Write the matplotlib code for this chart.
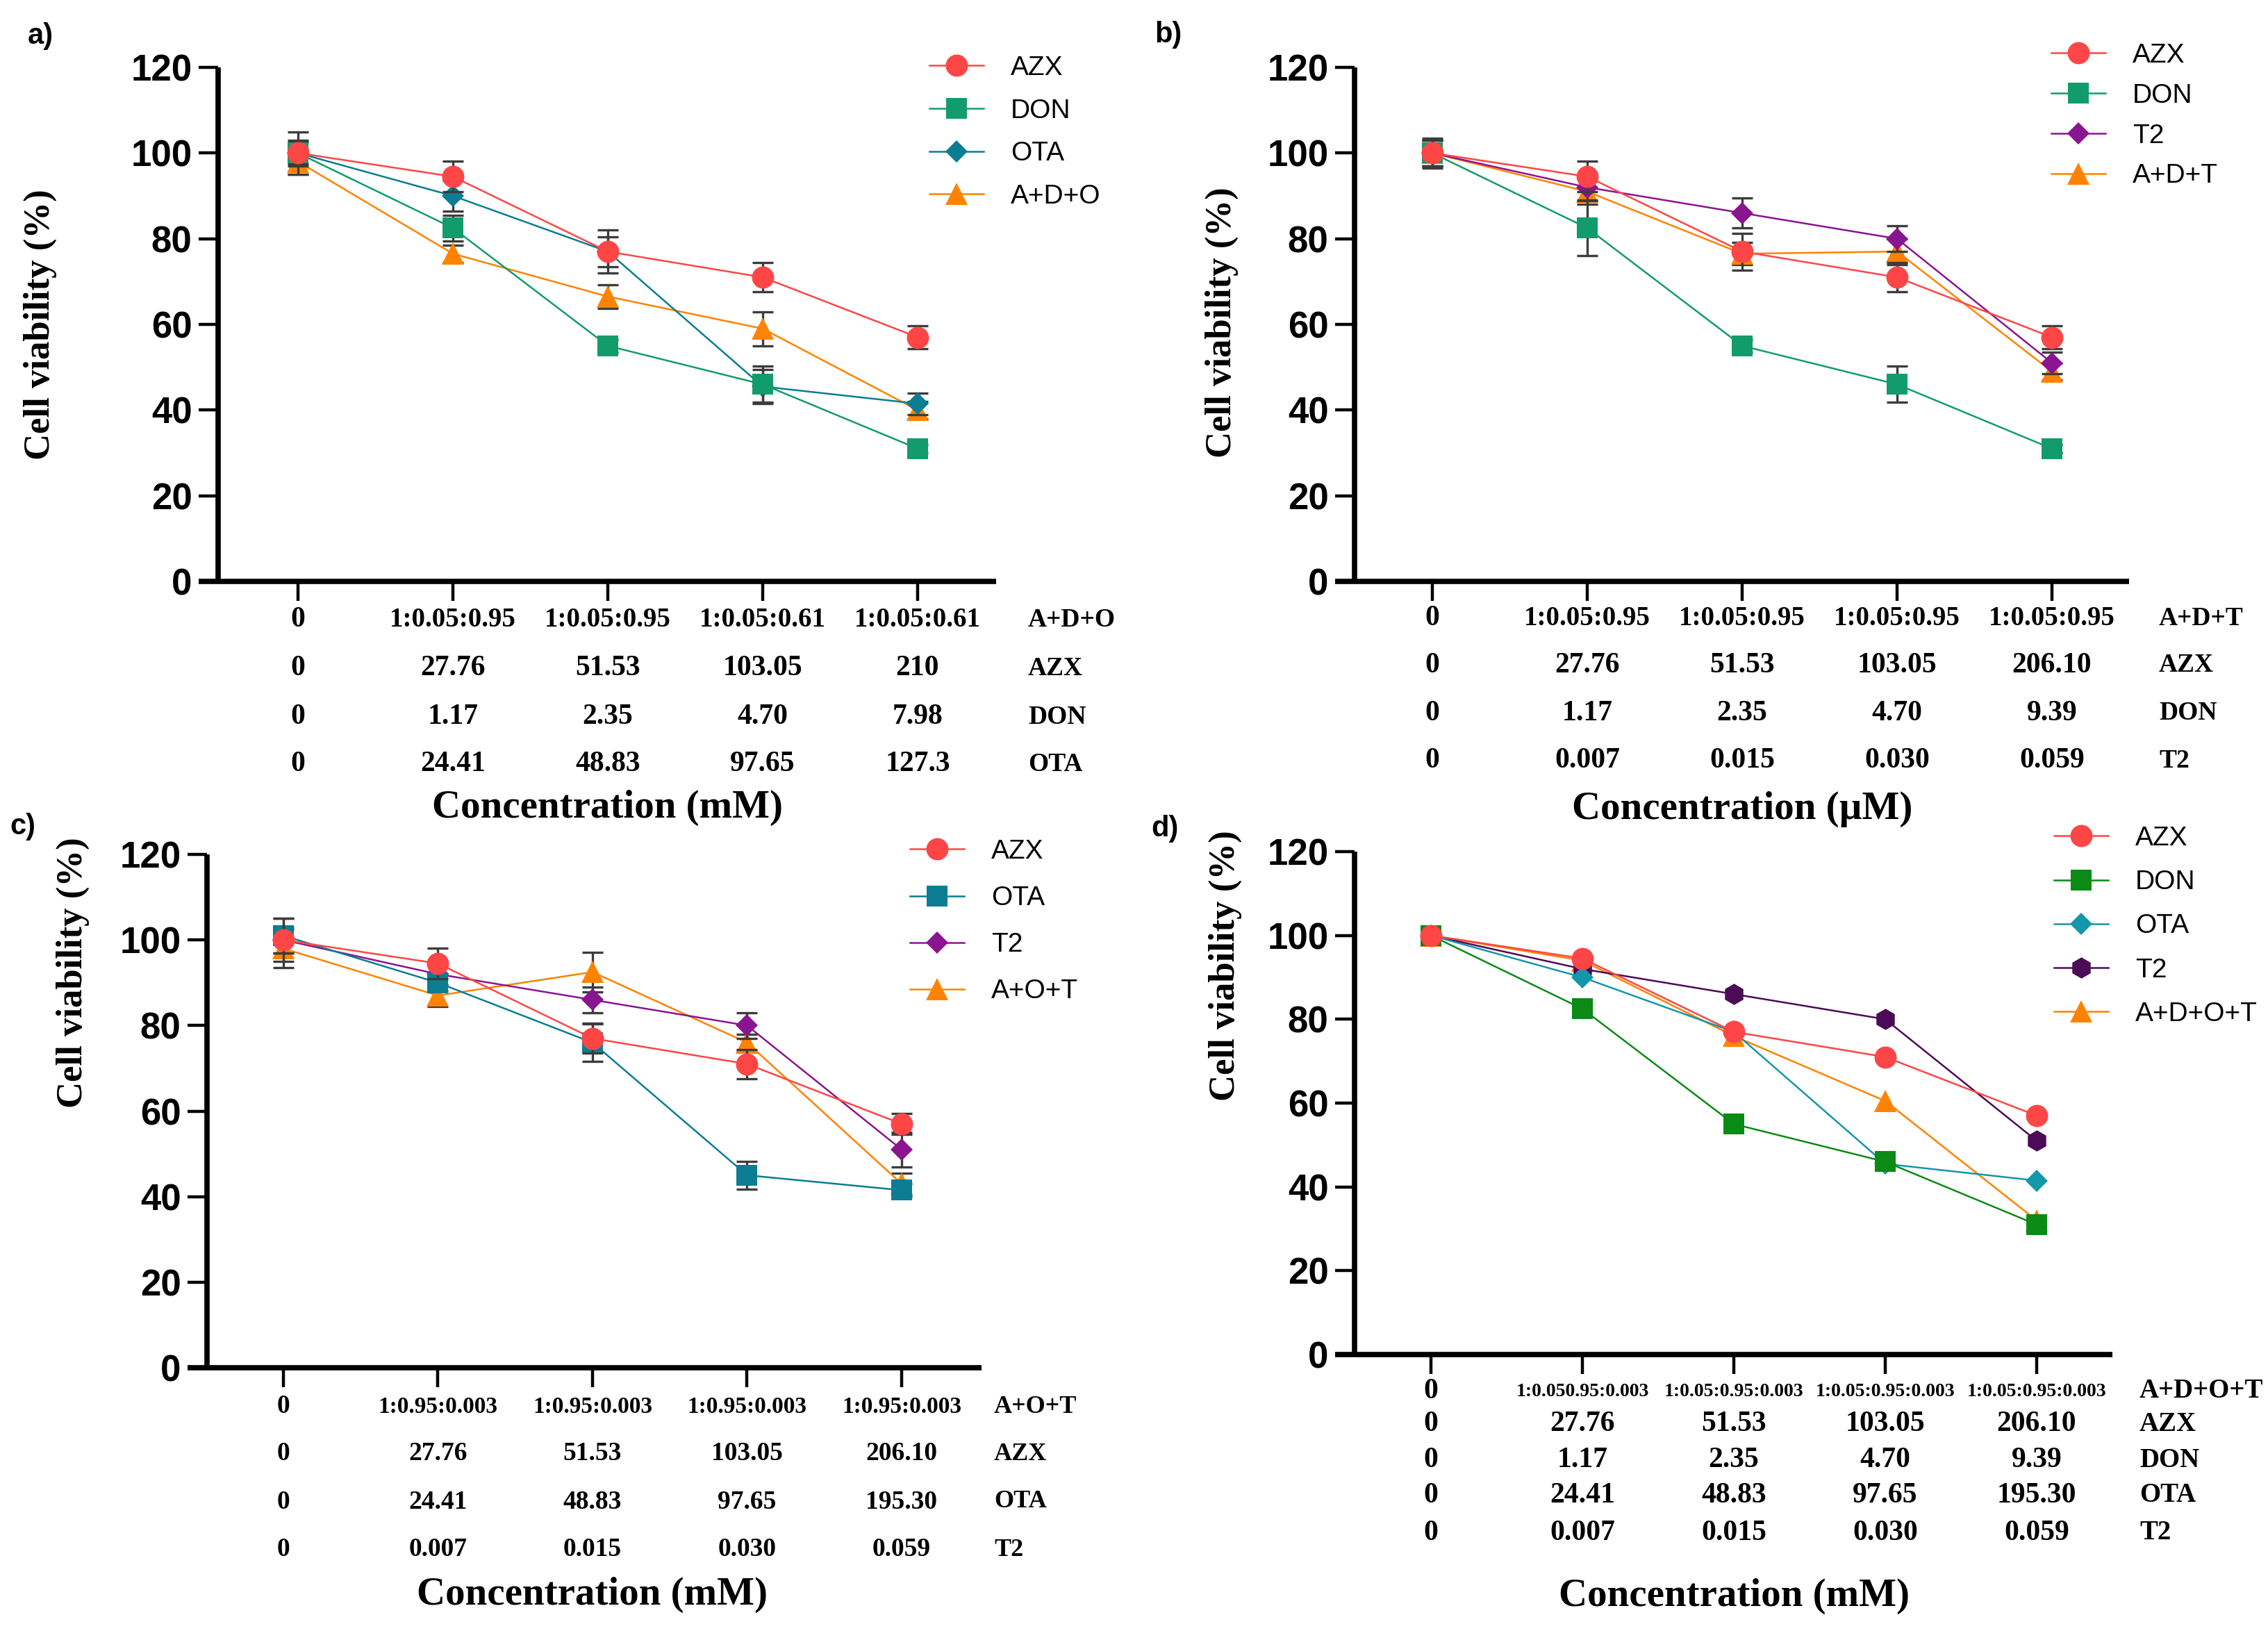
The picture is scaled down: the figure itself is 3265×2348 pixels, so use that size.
import matplotlib
matplotlib.use("Agg")
import matplotlib.pyplot as plt
from matplotlib.transforms import blended_transform_factory
from matplotlib import font_manager

W, H = 3266, 2348
DPI = 100

# ---------------- data ----------------
x_idx = [0, 1, 2, 3, 4]
y_ticks = [0, 20, 40, 60, 80, 100, 120]

# panel a
a_names = ["AZX", "DON", "OTA", "A+D+O"]
a_azx = [100, 94.5, 77, 71, 57]
a_azx_err = [3, 3.6, 3.5, 3.4, 2.7]
a_don = [100, 82.5, 55, 46, 31]
a_don_err = [2.5, 3, 1.5, 4.2, 1]
a_ota = [100, 90, 77, 45.5, 41.5]
a_ota_err = [5, 3.5, 5, 4, 2.5]
a_mix = [98, 76.5, 66.5, 59, 40]
a_mix_err = [3, 2, 2.8, 4, 2]
a_rows = [["0", "1:0.05:0.95", "1:0.05:0.95", "1:0.05:0.61", "1:0.05:0.61"],
          ["0", "27.76", "51.53", "103.05", "210"],
          ["0", "1.17", "2.35", "4.70", "7.98"],
          ["0", "24.41", "48.83", "97.65", "127.3"]]
a_row_labels = ["A+D+O", "AZX", "DON", "OTA"]
a_xlabel = "Concentration (mM)"

# panel b
b_names = ["AZX", "DON", "T2", "A+D+T"]
b_azx = [100, 94.5, 77, 71, 57]
b_azx_err = [3, 3.6, 4.3, 3.4, 2.7]
b_don = [100, 82.5, 55, 46, 31]
b_don_err = [3.5, 6.4, 1.5, 4.2, 1]
b_t2 = [100, 92, 86, 80, 51]
b_t2_err = [3, 3, 3.5, 3, 2.5]
b_mix = [100, 91, 76.5, 77, 49]
b_mix_err = [3, 3, 2.6, 3, 2]
b_rows = [["0", "1:0.05:0.95", "1:0.05:0.95", "1:0.05:0.95", "1:0.05:0.95"],
          ["0", "27.76", "51.53", "103.05", "206.10"],
          ["0", "1.17", "2.35", "4.70", "9.39"],
          ["0", "0.007", "0.015", "0.030", "0.059"]]
b_row_labels = ["A+D+T", "AZX", "DON", "T2"]
b_xlabel = "Concentration (\u00b5M)"

# panel c
c_names = ["AZX", "OTA", "T2", "A+O+T"]
c_azx = [100, 94.5, 77, 71, 57]
c_azx_err = [5, 3.5, 3.5, 3.4, 2.5]
c_ota = [101, 90, 76, 45, 41.5]
c_ota_err = [4, 2, 4.4, 3.3, 1.5]
c_t2 = [100, 92, 86, 80, 51]
c_t2_err = [3, 2.5, 3, 3, 4]
c_mix = [98, 87, 92.5, 76, 43]
c_mix_err = [4.5, 2.5, 4.6, 2, 2.5]
c_rows = [["0", "1:0.95:0.003", "1:0.95:0.003", "1:0.95:0.003", "1:0.95:0.003"],
          ["0", "27.76", "51.53", "103.05", "206.10"],
          ["0", "24.41", "48.83", "97.65", "195.30"],
          ["0", "0.007", "0.015", "0.030", "0.059"]]
c_row_labels = ["A+O+T", "AZX", "OTA", "T2"]
c_xlabel = "Concentration (mM)"

# panel d
d_names = ["AZX", "DON", "OTA", "T2", "A+D+O+T"]
d_azx = [100, 94.5, 77, 71, 57]
d_don = [100, 82.5, 55, 46, 31]
d_ota = [100, 90, 77, 45.5, 41.5]
d_t2 = [100, 92, 86, 80, 51]
d_mix = [100, 94, 76, 60.5, 32]
d_rows = [["0", "1:0.050.95:0.003", "1:0.05:0.95:0.003", "1:0.05:0.95:0.003", "1:0.05:0.95:0.003"],
          ["0", "27.76", "51.53", "103.05", "206.10"],
          ["0", "1.17", "2.35", "4.70", "9.39"],
          ["0", "24.41", "48.83", "97.65", "195.30"],
          ["0", "0.007", "0.015", "0.030", "0.059"]]
d_row_labels = ["A+D+O+T", "AZX", "DON", "OTA", "T2"]
d_xlabel = "Concentration (mM)"

y_label = "Cell viability (%)"

# ---------------- styles ----------------
RED = "#FF4646"
GREEN = "#129C6C"
TEAL = "#0A7D92"
ORANGE = "#FF8300"
PURPLE = "#8A1590"
D_GREEN = "#0B8A16"
D_TEAL = "#1496AB"
D_PURPLE = "#4B0B57"
ECOL = "#3C3C3C"

SANS = ["Liberation Sans", "DejaVu Sans"]
SERIF = ["Liberation Serif", "DejaVu Serif"]
_names = {f.name for f in font_manager.fontManager.ttflist}
if "Liberation Sans Narrow" in _names:
    TICKFONT = ["Liberation Sans Narrow", "DejaVu Sans"]
    TICKSIZE = 43
else:
    TICKFONT = SANS
    TICKSIZE = 38

fig = plt.figure(figsize=(W / DPI, H / DPI), dpi=DPI)


def fx(px):
    return px / W


def fy(py):
    return 1 - py / H


def make_panel(geo, series, rows, row_labels, xlabel, letter, sizes):
    first_size, body_size, lab_size = sizes
    yax, x0, unit, right, y0, y120 = geo["ax"]
    ax = fig.add_axes([fx(yax), fy(y0), fx(right - yax), (y0 - y120) / H])
    ax.set_xlim((yax - x0) / unit, (right - x0) / unit)
    ax.set_ylim(0, 120)
    for s in ["top", "right"]:
        ax.spines[s].set_visible(False)
    for s in ["left", "bottom"]:
        ax.spines[s].set_linewidth(5.5)
        ax.spines[s].set_capstyle("butt")
    ax.spines["bottom"].set_bounds((yax - 28 - x0) / unit, (right - x0) / unit)
    ax.set_xticks(x_idx)
    ax.set_xticklabels([])
    ax.set_yticks(y_ticks)
    ax.tick_params(axis="both", direction="out", length=20, width=3.2, pad=7,
                   labelsize=TICKSIZE)
    for lbl in ax.get_yticklabels():
        lbl.set_fontweight("bold")
        lbl.set_family(TICKFONT)

    handles = []
    for i, s in enumerate(reversed(series)):
        z = 3 + i
        if s.get("err") is not None:
            ax.errorbar(x_idx, s["y"], yerr=s["err"], fmt="none", ecolor=ECOL,
                        elinewidth=2.4, capsize=11, capthick=2.4, zorder=z - 0.5,
                        clip_on=False)
        ln, = ax.plot(x_idx, s["y"], color=s["c"], marker=s["m"], ms=s["ms"],
                      lw=1.8, label=s["name"], zorder=z, clip_on=False,
                      markeredgewidth=0)
        handles.append(ln)
    handles = handles[::-1]

    lx, ly, lsp = geo["legend"]
    fig.legend(handles=handles, loc="upper left",
               bbox_to_anchor=(fx(lx), fy(ly)), frameon=False,
               prop={"family": SANS, "size": 28}, handlelength=2.0,
               handletextpad=1.0, labelspacing=lsp, borderpad=0,
               borderaxespad=0, numpoints=1)

    tr = blended_transform_factory(ax.transData, fig.transFigure)
    for r, (row, ypx) in enumerate(zip(rows, geo["rows"])):
        for xi, t in zip(x_idx, row):
            size = first_size if (r == 0 and xi > 0) else body_size
            ax.text(xi, fy(ypx), t, transform=tr, ha="center", va="center",
                    family=SERIF, fontweight="bold", fontsize=size)
        ax.text((geo["rowlab"] - x0) / unit, fy(ypx), row_labels[r], transform=tr,
                ha="left", va="center", family=SERIF, fontweight="bold",
                fontsize=lab_size)
    ax.text(2, fy(geo["xlabel"]), xlabel, transform=tr, ha="center", va="center",
            family=SERIF, fontweight="bold", fontsize=41)
    yl_x, yl_y = geo["ylabel"]
    fig.text(fx(yl_x), fy(yl_y), y_label, rotation=90, ha="center", va="center",
             family=SERIF, fontweight="bold", fontsize=38)
    px_, py_ = geo["letter"]
    fig.text(fx(px_), fy(py_), letter, ha="center", va="center", family=SANS,
             fontweight="bold", fontsize=30)
    return ax


geo_a = dict(ax=(314, 429, 223, 1434, 837, 97), rows=[892, 962, 1032, 1100],
             xlabel=1163, rowlab=1480, legend=(1338, 80, 0.66), ylabel=(58, 467),
             letter=(58, 52))
geo_b = dict(ax=(1950, 2062, 223, 3065, 837, 97), rows=[890, 958, 1027, 1095],
             xlabel=1165, rowlab=3108, legend=(2953, 62, 0.56), ylabel=(1759, 464),
             letter=(1682, 50))
geo_c = dict(ax=(298, 408, 222.5, 1413, 1969, 1230), rows=[2025, 2093, 2162, 2231],
             xlabel=2296, rowlab=1431, legend=(1310, 1208, 0.80), ylabel=(105, 1400),
             letter=(33, 1190))
geo_d = dict(ax=(1950, 2060, 218, 3041, 1950, 1226),
             rows=[2003, 2050, 2102, 2153, 2207],
             xlabel=2298, rowlab=3080, legend=(2957, 1189, 0.70), ylabel=(1764, 1390),
             letter=(1677, 1193))

make_panel(geo_a, [
    dict(name=a_names[0], y=a_azx, err=a_azx_err, c=RED, m="o", ms=23),
    dict(name=a_names[1], y=a_don, err=a_don_err, c=GREEN, m="s", ms=22),
    dict(name=a_names[2], y=a_ota, err=a_ota_err, c=TEAL, m="D", ms=16),
    dict(name=a_names[3], y=a_mix, err=a_mix_err, c=ORANGE, m="^", ms=23),
], a_rows, a_row_labels, a_xlabel, "a)", (28, 30, 27))

make_panel(geo_b, [
    dict(name=b_names[0], y=b_azx, err=b_azx_err, c=RED, m="o", ms=23),
    dict(name=b_names[1], y=b_don, err=b_don_err, c=GREEN, m="s", ms=22),
    dict(name=b_names[2], y=b_t2, err=b_t2_err, c=PURPLE, m="D", ms=16),
    dict(name=b_names[3], y=b_mix, err=b_mix_err, c=ORANGE, m="^", ms=23),
], b_rows, b_row_labels, b_xlabel, "b)", (28, 30, 27))

make_panel(geo_c, [
    dict(name=c_names[0], y=c_azx, err=c_azx_err, c=RED, m="o", ms=23),
    dict(name=c_names[1], y=c_ota, err=c_ota_err, c=TEAL, m="s", ms=22),
    dict(name=c_names[2], y=c_t2, err=c_t2_err, c=PURPLE, m="D", ms=16),
    dict(name=c_names[3], y=c_mix, err=c_mix_err, c=ORANGE, m="^", ms=23),
], c_rows, c_row_labels, c_xlabel, "c)", (24, 27, 26))

make_panel(geo_d, [
    dict(name=d_names[0], y=d_azx, err=None, c=RED, m="o", ms=23),
    dict(name=d_names[1], y=d_don, err=None, c=D_GREEN, m="s", ms=22),
    dict(name=d_names[2], y=d_ota, err=None, c=D_TEAL, m="D", ms=16),
    dict(name=d_names[3], y=d_t2, err=None, c=D_PURPLE, m="h", ms=22),
    dict(name=d_names[4], y=d_mix, err=None, c=ORANGE, m="^", ms=23),
], d_rows, d_row_labels, d_xlabel, "d)", (20, 30, 28))

fig.savefig("out.png", dpi=DPI)
